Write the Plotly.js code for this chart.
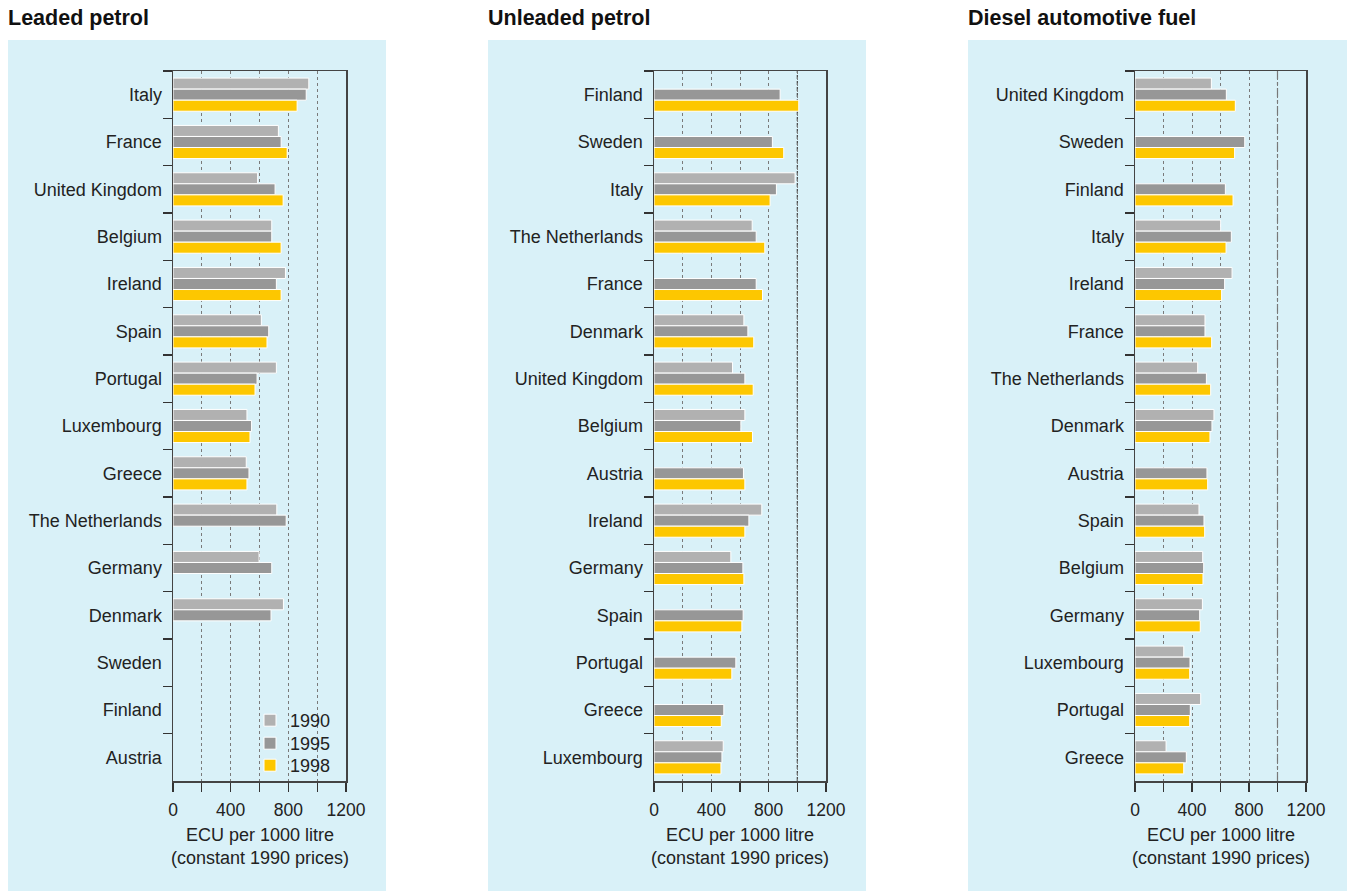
<!DOCTYPE html>
<html>
<head>
<meta charset="utf-8">
<script src="https://cdn.plot.ly/plotly-3.0.1.min.js"></script>
<style>html,body{margin:0;padding:0;background:#fff;}#chart{width:1347px;height:891px;}</style>
</head>
<body>
<div id="chart"></div>
<script>
// ---- Data ----
const years = ['1990', '1995', '1998'];
const panelTitles = ['Leaded petrol', 'Unleaded petrol', 'Diesel automotive fuel'];
const xTickVals = [0, 200, 400, 600, 800, 1000, 1200];
const xTickText = ['0', '', '400', '', '800', '', '1200'];
const axisTitle = 'ECU per 1000 litre<br>(constant 1990 prices)';

const leadedCats = ['Italy','France','United Kingdom','Belgium','Ireland','Spain','Portugal','Luxembourg','Greece','The Netherlands','Germany','Denmark','Sweden','Finland','Austria'];
const leaded1990 = [942,731,587,685,780,613,717,513,508,720,597,766,null,null,null];
const leaded1995 = [924,750,708,685,717,664,583,545,527,785,685,680,null,null,null];
const leaded1998 = [861,792,764,750,750,652,569,534,513,null,null,null,null,null,null];

const unleadedCats = ['Finland','Sweden','Italy','The Netherlands','France','Denmark','United Kingdom','Belgium','Austria','Ireland','Germany','Spain','Portugal','Greece','Luxembourg'];
const unleaded1990 = [null,null,984,685,null,627,548,634,null,752,536,null,null,null,483];
const unleaded1995 = [880,826,854,713,713,655,634,606,624,662,620,622,571,487,474];
const unleaded1998 = [1010,905,810,773,757,696,692,687,634,634,627,613,543,469,467];

const dieselCats = ['United Kingdom','Sweden','Finland','Italy','Ireland','France','The Netherlands','Denmark','Austria','Spain','Belgium','Germany','Luxembourg','Portugal','Greece'];
const diesel1990 = [536,null,null,601,681,491,440,554,null,449,475,473,342,461,218];
const diesel1995 = [641,770,634,676,629,491,501,540,505,484,482,454,386,388,360];
const diesel1998 = [704,699,688,639,608,538,531,526,510,489,477,458,384,384,342];

// ---- Styling ----
const W = 1347, H = 891;
const colors = ['#b1b1b1', '#979797', '#fdc700'];
const bgColor = '#d9f1f8';
const font = 'Liberation Sans, Arial, Helvetica, sans-serif';
const txt = '#222';
const px = v => v / W;
const py = v => 1 - v / H;

const panels = [
  {cats: leadedCats, series: [leaded1990, leaded1995, leaded1998], plot: [173, 346], bg: [8, 386]},
  {cats: unleadedCats, series: [unleaded1990, unleaded1995, unleaded1998], plot: [654, 826], bg: [488, 866]},
  {cats: dieselCats, series: [diesel1990, diesel1995, diesel1998], plot: [1135, 1306], bg: [968, 1347]}
];
const plotTop = 71, plotBottom = 781;
const legendNames = ['legend', 'legend2', 'legend3'];
const legendTops = [702, 725, 747];

const traces = [];
const layout = {
  width: W, height: H,
  margin: {l: 0, r: 0, t: 0, b: 0, pad: 0},
  paper_bgcolor: '#fff',
  plot_bgcolor: 'rgba(0,0,0,0)',
  barmode: 'group',
  bargap: 0.3,
  bargroupgap: 0,
  font: {family: font, size: 18, color: txt},
  showlegend: true,
  shapes: [],
  annotations: []
};
legendNames.forEach((ln, k) => {
  layout[ln] = {
    x: px(250), y: py(legendTops[k]), xanchor: 'left', yanchor: 'top',
    bgcolor: 'rgba(0,0,0,0)', borderwidth: 0, font: {size: 18, color: txt, family: font},
    itemwidth: 30
  };
});

panels.forEach((p, i) => {
  const n = i === 0 ? '' : String(i + 1);
  p.series.forEach((vals, k) => {
    traces.push({
      type: 'bar', orientation: 'h',
      x: vals, y: p.cats,
      name: years[k],
      xaxis: 'x' + n, yaxis: 'y' + n,
      marker: {color: colors[k], line: {color: '#ffffff', width: 1}},
      showlegend: i === 0,
      legend: legendNames[k],
      hoverinfo: 'x+y+name'
    });
  });
  layout['xaxis' + n] = {
    domain: [px(p.plot[0]), px(p.plot[1])],
    anchor: 'y' + n,
    range: [0, 1200],
    tickmode: 'array', tickvals: xTickVals, ticktext: xTickText,
    ticks: 'outside', ticklen: 9, tickwidth: 1.3, tickcolor: '#333',
    ticklabelstandoff: 3,
    tickfont: {size: 17.5, color: txt},
    showgrid: true, gridcolor: '#7a7a7a', gridwidth: 1, griddash: 'dot',
    showline: true, linecolor: '#444', linewidth: 1.5, mirror: true,
    zeroline: false, fixedrange: true
  };
  layout['yaxis' + n] = {
    domain: [py(plotBottom), py(plotTop)],
    anchor: 'x' + n,
    type: 'category',
    autorange: 'reversed',
    ticks: 'outside', ticklen: 9, tickwidth: 1.3, tickcolor: '#333',
    tickson: 'boundaries',
    ticklabelstandoff: 6,
    tickfont: {size: 18, color: txt},
    showgrid: false,
    showline: true, linecolor: '#444', linewidth: 1.5, mirror: true,
    zeroline: false, fixedrange: true
  };
  // panel background
  layout.shapes.push({
    type: 'rect', xref: 'paper', yref: 'paper', layer: 'below',
    x0: px(p.bg[0]), x1: px(p.bg[1]), y0: 0, y1: py(40),
    fillcolor: bgColor, line: {width: 0}
  });
  // title
  layout.annotations.push({
    xref: 'paper', yref: 'paper', x: px(p.bg[0] - 2), y: py(18),
    xanchor: 'left', yanchor: 'middle', showarrow: false,
    text: '<b>' + panelTitles[i] + '</b>',
    font: {size: 21.5, color: '#111', family: font}
  });
  // axis title
  layout.annotations.push({
    xref: 'paper', yref: 'paper', x: px((p.plot[0] + p.plot[1]) / 2), y: py(846),
    xanchor: 'center', yanchor: 'middle', showarrow: false,
    text: axisTitle, align: 'center',
    font: {size: 18, color: txt, family: font}
  });
  // reference line at 1000 for panels 2 and 3
  if (i > 0) {
    layout.shapes.push({
      type: 'line', xref: 'x' + n, yref: 'y' + n + ' domain', layer: 'below',
      x0: 1000, x1: 1000, y0: 0, y1: 1,
      line: {color: i === 1 ? '#444' : '#777', width: 1.2, dash: i === 1 ? '4px,2px' : 'dashdot'}
    });
  }
});

Plotly.newPlot('chart', traces, layout, {staticPlot: true, displayModeBar: false});
</script>
</body>
</html>
